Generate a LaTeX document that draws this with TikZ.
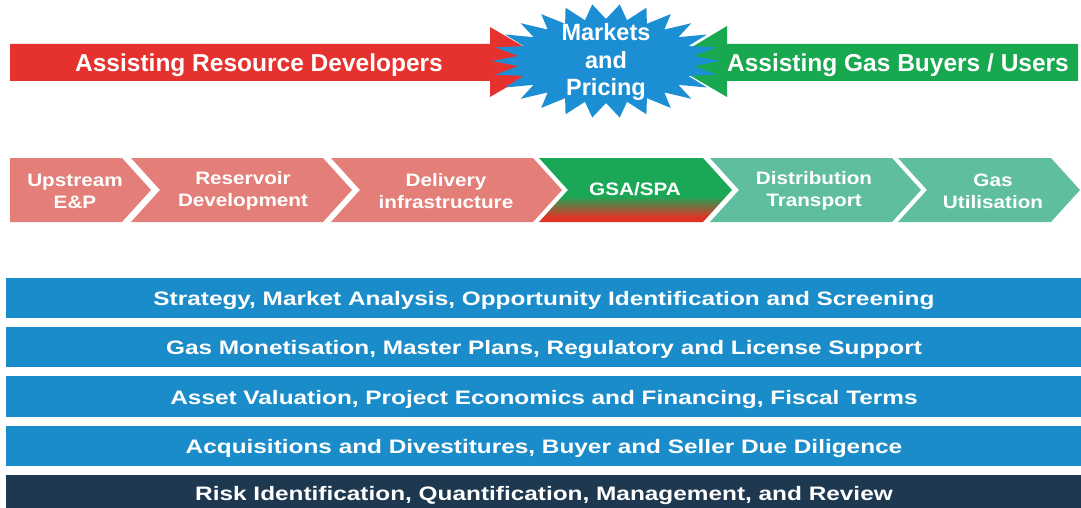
\documentclass[tikz,border=0pt]{standalone}
\usepackage{fontspec}
\setmainfont{Liberation Sans}
\newfontfamily\chevfont{Liberation Sans}[FakeStretch=1.15]
\newfontfamily\barfont{Liberation Sans}[FakeStretch=1.25]
\definecolor{arrowred}{RGB}{230,50,46}
\definecolor{arrowgreen}{RGB}{24,168,80}
\definecolor{starblue}{RGB}{28,143,212}
\definecolor{salmon}{RGB}{228,126,120}
\definecolor{teal}{RGB}{96,190,160}
\definecolor{gsagreen}{RGB}{26,168,86}
\definecolor{gsared}{RGB}{222,52,40}
\definecolor{barblue}{RGB}{26,140,202}
\definecolor{bardark}{RGB}{30,56,80}
\tikzset{
  bigtext/.style={text=white, font=\fontsize{24.5}{28}\selectfont\bfseries, inner sep=0pt},
  startext/.style={text=white, font=\fontsize{23.5}{27.5}\selectfont\bfseries, align=center, inner sep=0pt},
  chevtext/.style={text=white, font=\fontsize{18}{22}\chevfont\bfseries, align=center, inner sep=0pt},
  bartext/.style={text=white, font=\fontsize{19.5}{24}\barfont\bfseries, inner sep=0pt},
}
\begin{document}
\begin{tikzpicture}[x=1pt,y=-1pt]
\useasboundingbox (0,0) rectangle (1081,508);
% top arrows
\fill[arrowred] (10,44) -- (490,44) -- (490,27) -- (550,62) -- (490,97) -- (490,81) -- (10,81) -- cycle;
\fill[arrowgreen] (1078,44) -- (727,44) -- (727,26) -- (667,62) -- (727,97) -- (727,81) -- (1078,81) -- cycle;
\node[bigtext] (dev) at (259,65) {Assisting Resource Developers};
\node[bigtext] (buy) at (898,65) {Assisting Gas Buyers / Users};
% starburst
\fill[starblue] (720,61)
  \foreach \i in {1,...,51}{ -- ({606+(101+13*cos(\i*180))*cos(\i*90/13)},{61+(49.5+7.5*cos(\i*180))*sin(\i*90/13)}) } -- cycle;
\node[startext] (mkt) at (606,62) {Markets\\and\\Pricing};
% chevrons
\fill[salmon] (10,158) -- (122,158) -- (151,190) -- (122,222) -- (10,222) -- cycle;
\fill[salmon] (131,158) -- (323,158) -- (352,190) -- (323,222) -- (131,222) -- (160,190) -- cycle;
\fill[salmon] (331,158) -- (533,158) -- (562,190) -- (533,222) -- (331,222) -- (360,190) -- cycle;
\begin{scope}
\clip (539,158) -- (703,158) -- (732,190) -- (703,222) -- (539,222) -- (568,190) -- cycle;
\fill[gsagreen] (530,150) rectangle (740,196);
\shade[top color=gsagreen, bottom color=gsared] (530,196) rectangle (740,217);
\fill[gsared] (530,217) rectangle (740,230);
\end{scope}
\fill[teal] (710,158) -- (892,158) -- (921,190) -- (892,222) -- (710,222) -- (739,190) -- cycle;
\fill[teal] (898,158) -- (1051,158) -- (1080,190) -- (1051,222) -- (898,222) -- (927,190) -- cycle;
\node[chevtext] (c1) at (75,191) {Upstream\\E\&P};
\node[chevtext] (c2) at (243,191) {Reservoir\\Development};
\node[chevtext] (c3) at (446,191) {Delivery\\infrastructure};
\node[chevtext] (c4) at (635,189) {GSA/SPA};
\node[chevtext] (c5) at (814,191) {Distribution\\Transport};
\node[chevtext] (c6) at (993,191) {Gas\\Utilisation};
% bars
\fill[barblue] (6,278) rectangle (1081,318);
\fill[barblue] (6,327) rectangle (1081,367);
\fill[barblue] (6,376) rectangle (1081,417);
\fill[barblue] (6,426) rectangle (1081,466);
\fill[bardark] (6,475) rectangle (1081,508);
\node[bartext] (b1) at (544,300) {Strategy, Market Analysis, Opportunity Identification and Screening};
\node[bartext] (b2) at (544,349) {Gas Monetisation, Master Plans, Regulatory and License Support};
\node[bartext] (b3) at (544,399) {Asset Valuation, Project Economics and Financing, Fiscal Terms};
\node[bartext] (b4) at (544,448) {Acquisitions and Divestitures, Buyer and Seller Due Diligence};
\node[bartext] (b5) at (544,495) {Risk Identification, Quantification, Management, and Review};
\end{tikzpicture}
\end{document}
